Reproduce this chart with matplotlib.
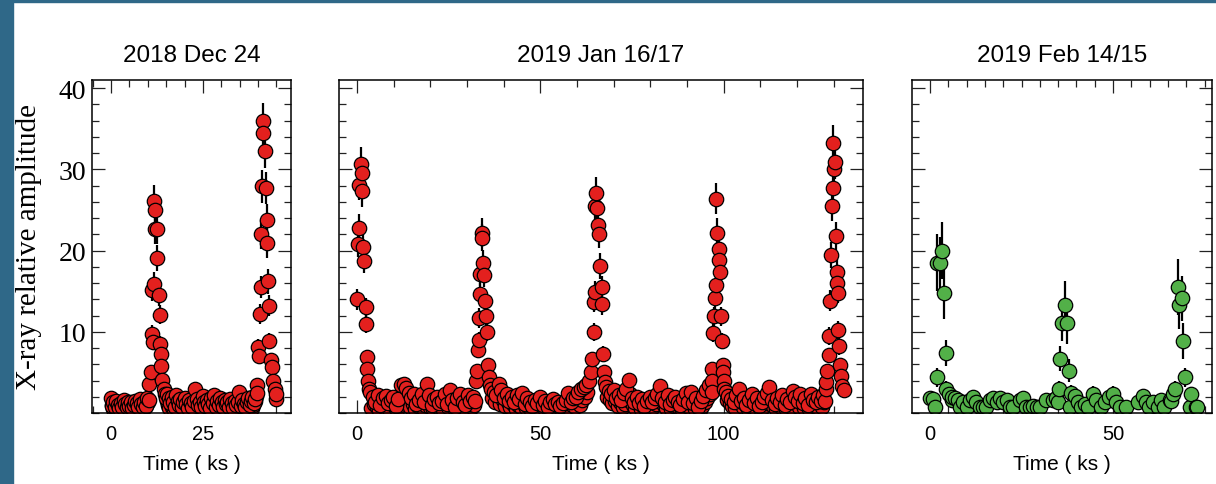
import matplotlib.pyplot as plt
from matplotlib.patches import Rectangle
from matplotlib.ticker import MultipleLocator

# ---- panel 1 : 2018 Dec 24 ----
t1 = [0.0, 0.3, 0.6, 1.0, 1.4, 1.8, 2.2, 2.6, 3.0, 3.4, 3.8, 4.2, 4.6, 5.0, 5.4, 5.8, 6.2, 6.6, 7.0, 7.4,
      7.8, 8.2, 8.6, 9.0, 9.4, 9.8,
      10.2, 10.4, 10.8, 11.1, 11.4, 11.1, 11.7, 11.8, 12.0, 12.0, 12.4, 12.4, 13.0, 13.2, 13.35, 13.5,
      13.7, 14.0, 14.3, 14.6, 14.9,
      15.3, 15.7, 16.1, 16.5, 16.9, 17.3, 17.7, 18.1, 18.5, 18.9, 19.3, 19.7, 20.1, 20.5, 20.9, 21.3,
      21.7, 22.1, 22.5, 22.9, 23.3, 23.7, 24.1, 24.5, 24.9, 25.3, 25.7, 26.1, 26.5, 26.9, 27.3, 27.7,
      28.1, 28.5, 28.9, 29.3, 29.7, 30.1, 30.5, 30.9, 31.3, 31.7, 32.1, 32.5, 32.9, 33.3, 33.7, 34.1,
      34.5, 34.9, 35.3, 35.7, 36.1, 36.5, 36.9, 37.3, 37.7, 38.1, 38.5, 38.9, 39.3,
      39.7, 39.8, 40.1, 40.3, 40.6, 40.9, 40.9, 41.1, 41.5, 41.5, 41.8, 42.2, 42.4, 42.4, 42.7, 42.9,
      43.1, 43.5, 43.8, 44.1, 44.7, 44.8, 45.0]
a1 = [1.8, 0.9, 1.3, 0.7, 1.5, 1.0, 0.6, 1.2, 0.8, 1.6, 1.1, 0.7, 1.3, 0.9, 1.4, 0.6, 1.0, 1.5, 1.2, 0.8,
      1.7, 1.1, 0.7, 1.4, 0.9, 1.9,
      1.6, 3.6, 5.1, 9.75, 8.8, 15.1, 15.9, 26.1, 25.0, 22.6, 22.6, 19.1, 14.5, 12.1, 8.5, 7.3,
      5.8, 4.1, 3.0, 2.4, 1.9,
      2.4, 1.8, 1.2, 2.0, 1.4, 0.8, 2.2, 1.5, 1.0, 1.7, 0.7, 1.3, 1.9, 1.1, 0.6, 1.6,
      1.2, 0.8, 1.5, 3.0, 1.7, 1.0, 1.4, 0.7, 2.1, 1.3, 0.9, 1.6, 1.1, 0.6, 1.8, 1.2,
      2.2, 0.8, 1.5, 1.0, 1.9, 1.3, 0.7, 1.6, 1.1, 1.4, 0.8, 1.7, 1.2, 0.6, 1.5, 1.0,
      1.3, 2.6, 0.9, 1.6, 1.1, 0.7, 1.4, 1.8, 1.0, 1.5, 2.0, 1.2, 1.7,
      3.4, 2.5, 8.1, 7.0, 12.2, 15.5, 22.0, 27.9, 35.9, 34.5, 32.3, 27.7, 23.8, 20.9, 16.2, 13.2,
      8.9, 6.5, 5.7, 3.9, 3.0, 1.7, 2.4]
e1 = [0.5, 0.4, 0.5, 0.4, 0.5, 0.4, 0.4, 0.5, 0.4, 0.5, 0.4, 0.4, 0.5, 0.4, 0.5, 0.4, 0.4, 0.5, 0.5, 0.4,
      0.5, 0.4, 0.4, 0.5, 0.4, 0.5,
      0.5, 0.7, 0.8, 1.1, 1.0, 1.3, 1.4, 2.0, 1.9, 1.8, 1.8, 1.6, 1.3, 1.2, 1.0, 0.9,
      0.8, 0.7, 0.6, 0.5, 0.5,
      0.5, 0.5, 0.4, 0.5, 0.4, 0.4, 0.5, 0.5, 0.4, 0.5, 0.4, 0.4, 0.5, 0.4, 0.4, 0.5,
      0.4, 0.4, 0.5, 0.6, 0.5, 0.4, 0.5, 0.4, 0.5, 0.4, 0.4, 0.5, 0.4, 0.4, 0.5, 0.4,
      0.5, 0.4, 0.5, 0.4, 0.5, 0.4, 0.4, 0.5, 0.4, 0.5, 0.4, 0.5, 0.4, 0.4, 0.5, 0.4,
      0.4, 0.6, 0.4, 0.5, 0.4, 0.4, 0.5, 0.5, 0.4, 0.5, 0.5, 0.4, 0.5,
      0.7, 0.6, 1.0, 0.9, 1.2, 1.4, 1.8, 2.0, 2.3, 2.2, 2.1, 2.0, 1.9, 1.8, 1.5, 1.3,
      1.0, 0.9, 0.8, 0.7, 0.6, 0.5, 0.5]
# second, lower layer of quiescent points (error bars hidden under the marks)
t1_low = [0.15, 0.45, 0.8, 1.2, 1.6, 2.0, 2.4, 2.8, 3.2, 3.6, 4.0, 4.4, 4.8, 5.2, 5.6, 6.0, 6.4,
          6.8, 7.2, 7.6, 8.0, 8.4, 8.8, 9.2, 9.6, 10.0,
          15.1, 15.5, 15.9, 16.3, 16.7, 17.1, 17.5, 17.9, 18.3, 18.7, 19.1, 19.5, 19.9, 20.3, 20.7,
          21.1, 21.5, 21.9, 22.3, 22.7, 23.1, 23.5, 23.9, 24.3, 24.7, 25.1, 25.5, 25.9, 26.3, 26.7,
          27.1, 27.5, 27.9, 28.3, 28.7, 29.1, 29.5, 29.9, 30.3, 30.7, 31.1, 31.5, 31.9, 32.3, 32.7,
          33.1, 33.5, 33.9, 34.3, 34.7, 35.1, 35.5, 35.9, 36.3, 36.7, 37.1, 37.5, 37.9, 38.3, 38.7,
          39.1, 39.5]
a1_low = [1.0, 0.5, 0.8, 1.1, 0.4, 0.9, 1.2, 0.6, 1.0, 0.5, 0.8, 1.3, 0.6, 1.0, 0.4, 0.9, 0.7,
          1.1, 0.5, 1.0, 0.8, 0.5, 1.2, 0.7, 1.0, 1.3,
          1.5, 1.0, 0.6, 1.2, 0.8, 0.4, 1.1, 0.7, 1.3, 0.5, 0.9, 1.0, 0.6, 1.2, 0.4,
          0.8, 1.1, 0.7, 1.4, 2.0, 1.0, 0.5, 0.9, 1.2, 0.6, 1.0, 0.4, 0.8, 1.3, 0.7,
          1.0, 0.5, 1.2, 0.9, 0.4, 1.1, 0.7, 1.0, 0.5, 1.3, 0.8, 0.6, 1.1, 0.4, 0.9,
          1.2, 0.7, 1.0, 0.5, 0.8, 1.4, 0.6, 1.0, 0.4, 0.9, 1.2, 0.7, 1.1, 0.6, 1.0,
          1.5, 2.1]

# ---- panel 2 : 2019 Jan 16/17 ----
t2 = [0.1, 0.4, 0.6, 0.6, 1.0, 1.3, 1.5, 1.7, 1.9, 2.4, 2.5, 2.6, 2.8, 3.1, 3.3,
      3.6, 4.3, 5.0, 5.7, 6.4, 7.1, 7.8, 8.5, 9.2, 9.9, 10.6, 11.3, 12.0, 12.7, 13.4, 14.1, 14.8,
      15.5, 16.2, 16.9, 17.6, 18.3, 19.0, 19.7, 20.4, 21.1, 21.8, 22.5, 23.2, 23.9, 24.6, 25.3,
      26.0, 26.7, 27.4, 28.1, 28.8, 29.5, 30.2, 30.9, 31.6, 32.2,
      32.5, 32.7, 33.0, 33.2, 33.3, 33.6, 33.6, 34.1, 34.2, 34.5, 34.7, 35.0, 35.2, 35.4, 35.7,
      35.9, 36.2,
      36.6, 37.3, 38.0, 38.7, 39.4, 40.1, 40.8, 41.5, 42.2, 42.9, 43.6, 44.3, 45.0, 45.7, 46.4,
      47.1, 47.8, 48.5, 49.2, 49.9, 50.6, 51.3, 52.0, 52.7, 53.4, 54.1, 54.8, 55.5, 56.2, 56.9,
      57.6, 58.3, 59.0, 59.7, 60.4, 61.1, 61.8, 62.5,
      63.2, 63.9, 64.1, 64.6, 64.6, 64.8, 65.0, 65.2, 65.5, 65.8, 66.1, 66.4, 66.7, 66.9, 67.1,
      67.3, 67.6,
      67.9, 68.6, 69.3, 70.0, 70.7, 71.4, 72.1, 72.8, 73.5, 74.2, 74.9, 75.6, 76.3, 77.0, 77.7,
      78.4, 79.1, 79.8, 80.5, 81.2, 81.9, 82.6, 83.3, 84.0, 84.7, 85.4, 86.1, 86.8, 87.5, 88.2,
      88.9, 89.6, 90.3, 91.0, 91.7, 92.4, 93.1, 93.8, 94.5, 95.2, 95.9,
      96.7, 96.7, 96.8, 97.2, 97.4, 97.6, 97.8, 98.0, 98.3, 98.7, 98.7, 98.9, 99.2, 99.6, 99.8,
      99.9, 100.0, 100.2,
      100.6, 101.3, 102.0, 102.7, 103.4, 104.1, 104.8, 105.5, 106.2, 106.9, 107.6, 108.3, 109.0,
      109.7, 110.4, 111.1, 111.8, 112.5, 113.2, 113.9, 114.6, 115.3, 116.0, 116.7, 117.4, 118.1,
      118.8, 119.5, 120.2, 120.9, 121.6, 122.3, 123.0, 123.7, 124.4, 125.1, 125.8, 126.5, 127.2,
      127.7, 127.9, 128.0, 128.3, 128.6, 128.8, 128.9, 129.2, 129.5, 129.7, 129.9, 130.1, 130.4,
      130.6, 130.8, 130.9, 131.1, 131.2, 131.4, 131.6, 132.0, 132.4, 132.7]
a2 = [14.0, 20.8, 22.8, 28.1, 30.7, 29.5, 27.3, 20.5, 18.7, 13.0, 11.0, 6.9, 5.4, 3.9, 3.0,
      2.6, 2.0, 1.4, 2.2, 1.0, 1.8, 2.1, 1.2, 1.6, 2.0, 0.9, 1.7, 3.4, 3.6, 3.1, 2.5, 1.9,
      2.3, 1.1, 1.6, 2.4, 1.3, 3.6, 2.2, 1.0, 1.7, 2.0, 1.2, 1.5, 2.3, 1.1, 2.8,
      1.6, 0.8, 1.9, 2.4, 1.3, 1.0, 2.2, 1.5, 2.0, 1.5,
      4.0, 5.2, 7.7, 9.0, 11.7, 14.7, 17.1, 22.2, 21.6, 18.5, 17.0, 13.8, 11.9, 10.0, 5.9,
      4.4, 3.5,
      3.0, 2.6, 2.2, 3.6, 2.8, 1.9, 2.4, 1.5, 2.0, 1.3, 2.2, 1.7, 2.5, 1.1, 1.8,
      1.4, 0.9, 1.6, 1.2, 2.0, 1.0, 1.5, 0.8, 1.3, 1.7, 1.1, 1.4, 0.9, 1.2, 1.6,
      2.5, 1.3, 1.8, 2.0, 2.6, 2.9, 3.2, 3.5,
      4.0, 5.0, 6.6, 10.0, 13.7, 14.9, 25.5, 27.1, 25.2, 23.2, 22.0, 18.1, 15.5, 13.4, 7.3,
      5.0, 3.8,
      3.2, 2.7, 2.3, 2.8, 1.9, 2.2, 1.6, 2.5, 3.0, 4.1, 1.8, 1.4, 2.0, 1.2, 1.7,
      0.9, 1.5, 2.0, 1.3, 1.8, 2.4, 3.3, 1.9, 1.4, 2.2, 1.1, 1.6, 2.0, 1.3, 1.0,
      1.7, 2.5, 1.4, 2.6, 1.2, 1.8, 0.8, 1.5, 2.1, 2.8, 3.4,
      5.4, 4.0, 2.6, 9.9, 11.9, 14.1, 15.8, 26.4, 22.2, 20.2, 18.8, 17.3, 11.9, 8.9, 5.9,
      5.0, 4.0, 3.0,
      2.6, 2.1, 1.7, 1.3, 2.2, 2.9, 1.5, 1.9, 1.0, 1.6, 2.3, 1.2, 1.8,
      0.9, 1.4, 2.0, 2.5, 3.2, 1.6, 1.1, 1.9, 1.4, 2.2, 1.0, 1.7, 1.3,
      2.7, 2.0, 1.5, 2.3, 1.2, 1.8, 1.0, 2.4, 1.6, 1.3, 2.0, 1.5, 2.2,
      1.5, 3.0, 3.8, 5.2, 7.1, 9.5, 13.8, 19.5, 25.5, 27.7, 33.2, 30.1, 30.9,
      21.8, 17.4, 16.0, 14.8, 10.2, 8.2, 5.9, 4.6, 3.3, 2.8]
e2 = [1.3, 1.6, 1.7, 1.9, 2.0, 2.0, 1.9, 1.6, 1.5, 1.2, 1.1, 0.9, 0.8, 0.7, 0.6,
      0.5, 0.5, 0.4, 0.5, 0.4, 0.5, 0.5, 0.4, 0.4, 0.5, 0.4, 0.4, 0.6, 0.6, 0.6, 0.5, 0.5,
      0.5, 0.4, 0.4, 0.5, 0.4, 0.6, 0.5, 0.4, 0.4, 0.5, 0.4, 0.4, 0.5, 0.4, 0.5,
      0.4, 0.4, 0.5, 0.5, 0.4, 0.4, 0.5, 0.4, 0.5, 0.4,
      0.7, 0.8, 0.9, 1.0, 1.2, 1.3, 1.5, 1.8, 1.7, 1.6, 1.5, 1.3, 1.2, 1.1, 0.8,
      0.7, 0.6,
      0.6, 0.5, 0.5, 0.6, 0.6, 0.5, 0.5, 0.4, 0.5, 0.4, 0.5, 0.4, 0.5, 0.4, 0.5,
      0.4, 0.4, 0.4, 0.4, 0.5, 0.4, 0.4, 0.4, 0.4, 0.5, 0.4, 0.4, 0.4, 0.4, 0.4,
      0.5, 0.4, 0.5, 0.5, 0.5, 0.6, 0.6, 0.6,
      0.7, 0.8, 0.9, 1.1, 1.3, 1.4, 1.9, 2.0, 1.9, 1.8, 1.7, 1.6, 1.4, 1.3, 0.9,
      0.8, 0.7,
      0.6, 0.5, 0.5, 0.6, 0.5, 0.5, 0.4, 0.5, 0.6, 0.7, 0.5, 0.4, 0.5, 0.4, 0.4,
      0.4, 0.4, 0.5, 0.4, 0.5, 0.5, 0.6, 0.5, 0.4, 0.5, 0.4, 0.4, 0.5, 0.4, 0.4,
      0.4, 0.5, 0.4, 0.5, 0.4, 0.5, 0.4, 0.4, 0.5, 0.6, 0.6,
      0.8, 0.7, 0.6, 1.1, 1.2, 1.3, 1.4, 1.9, 1.8, 1.7, 1.6, 1.5, 1.2, 1.0, 0.8,
      0.8, 0.7, 0.6,
      0.5, 0.5, 0.4, 0.4, 0.5, 0.6, 0.4, 0.5, 0.4, 0.4, 0.5, 0.4, 0.5,
      0.4, 0.4, 0.5, 0.5, 0.6, 0.4, 0.4, 0.5, 0.4, 0.5, 0.4, 0.4, 0.4,
      0.5, 0.5, 0.4, 0.5, 0.4, 0.5, 0.4, 0.5, 0.4, 0.4, 0.5, 0.4, 0.5,
      0.5, 0.6, 0.7, 0.8, 0.9, 1.1, 1.3, 1.6, 1.9, 2.0, 2.2, 2.1, 2.1,
      1.7, 1.5, 1.4, 1.3, 1.1, 1.0, 0.8, 0.7, 0.6, 0.6]
t2_low = [3.95, 4.65, 5.35, 6.05, 6.75, 7.45, 8.15, 8.85, 9.55, 10.25, 10.95, 11.65, 12.35, 13.05,
          13.75, 14.45, 15.15, 15.85, 16.55, 17.25, 17.95, 18.65, 19.35, 20.05, 20.75, 21.45, 22.15,
          22.85, 23.55, 24.25, 24.95, 25.65, 26.35, 27.05, 27.75, 28.45, 29.15, 29.85, 30.55, 31.25,
          31.95,
          36.95, 37.65, 38.35, 39.05, 39.75, 40.45, 41.15, 41.85, 42.55, 43.25, 43.95, 44.65, 45.35,
          46.05, 46.75, 47.45, 48.15, 48.85, 49.55, 50.25, 50.95, 51.65, 52.35, 53.05, 53.75, 54.45,
          55.15, 55.85, 56.55, 57.25, 57.95, 58.65, 59.35, 60.05, 60.75, 61.45, 62.15, 62.85,
          68.25, 68.95, 69.65, 70.35, 71.05, 71.75, 72.45, 73.15, 73.85, 74.55, 75.25, 75.95, 76.65,
          77.35, 78.05, 78.75, 79.45, 80.15, 80.85, 81.55, 82.25, 82.95, 83.65, 84.35, 85.05, 85.75,
          86.45, 87.15, 87.85, 88.55, 89.25, 89.95, 90.65, 91.35, 92.05, 92.75, 93.45, 94.15, 94.85,
          95.55, 96.25,
          100.95, 101.65, 102.35, 103.05, 103.75, 104.45, 105.15, 105.85, 106.55, 107.25, 107.95,
          108.65, 109.35, 110.05, 110.75, 111.45, 112.15, 112.85, 113.55, 114.25, 114.95, 115.65,
          116.35, 117.05, 117.75, 118.45, 119.15, 119.85, 120.55, 121.25, 121.95, 122.65, 123.35,
          124.05, 124.75, 125.45, 126.15, 126.85, 127.5]
a2_low = [0.6, 1.1, 0.8, 0.4, 1.3, 0.7, 1.0, 0.5, 1.2, 0.8, 0.4, 1.0, 2.4, 1.9,
          1.2, 0.7, 1.1, 0.5, 0.9, 1.3, 0.6, 1.0, 2.0, 0.8, 0.5, 1.2, 0.7,
          1.0, 0.4, 1.1, 0.8, 1.5, 0.6, 1.0, 0.5, 1.2, 0.9, 0.4, 1.1, 0.7,
          1.0,
          1.8, 1.4, 2.0, 1.1, 1.6, 0.9, 1.3, 0.7, 1.1, 0.5, 1.0, 0.8, 1.2,
          0.6, 0.9, 0.4, 1.1, 0.7, 0.5, 1.0, 0.6, 0.9, 0.4, 0.8, 1.0, 0.5,
          0.7, 0.4, 0.9, 1.1, 0.6, 1.0, 0.8, 1.3, 1.0, 1.6, 2.0, 2.6,
          2.0, 1.6, 1.2, 1.5, 0.9, 1.3, 0.7, 1.1, 1.6, 2.3, 1.0, 0.6, 1.2,
          0.5, 0.9, 0.4, 1.0, 1.3, 0.7, 1.1, 1.5, 2.0, 1.0, 0.6, 1.3, 0.5,
          0.9, 1.2, 0.6, 0.4, 1.0, 1.6, 0.8, 1.4, 0.5, 1.0, 0.4, 0.9, 1.3,
          1.8, 2.4,
          1.6, 1.2, 0.9, 0.6, 1.3, 1.8, 0.8, 1.1, 0.5, 0.9, 1.4,
          0.6, 1.0, 0.4, 0.8, 1.2, 1.5, 2.0, 0.9, 0.5, 1.1, 0.7,
          1.3, 0.5, 1.0, 0.7, 1.6, 1.2, 0.8, 1.4, 0.6, 1.0, 0.5,
          1.5, 0.9, 0.7, 1.2, 0.8, 1.3]

# ---- panel 3 : 2019 Feb 14/15 ----
t3 = [0.0, 0.9, 1.4, 1.8, 1.8, 2.7, 3.4, 3.8, 4.4, 4.5, 5.3, 6.0,
      5.9, 6.8, 7.7, 8.2, 9.1, 10.0, 10.9, 11.8, 12.7, 13.6, 14.5, 15.4, 16.3, 17.2, 18.2, 19.1,
      20.0, 20.9, 21.8, 22.7, 24.5, 25.4, 26.3, 27.2, 28.1, 29.1, 30.0, 31.8, 33.6, 34.5,
      35.0, 35.2, 35.6, 36.1, 36.8, 37.4, 37.9, 38.2,
      38.6, 39.5, 40.4, 41.3, 42.2, 43.1, 44.5, 45.4, 46.8, 47.7, 49.0, 49.9, 50.9, 51.8, 53.6,
      56.8, 58.1, 59.0, 59.9, 60.9, 62.2, 63.1, 64.0, 65.4,
      65.9, 66.3, 67.0, 67.7, 68.1, 68.8, 69.0, 69.5, 70.9, 71.3, 72.7, 73.0]
a3 = [1.8, 1.7, 0.7, 4.4, 18.5, 18.5, 20.0, 14.8, 7.4, 3.0, 2.4, 1.6,
      2.0, 1.8, 1.6, 0.75, 1.3, 0.75, 1.6, 2.0, 1.3, 0.75, 0.75, 0.75, 1.6, 1.8, 1.3, 1.8,
      1.3, 1.6, 0.75, 0.75, 1.6, 1.8, 0.75, 0.75, 0.9, 0.75, 0.75, 1.6, 1.6, 1.8,
      1.4, 3.0, 6.7, 11.1, 13.3, 11.1, 5.2, 0.7,
      2.5, 2.1, 1.3, 0.75, 1.1, 0.75, 2.4, 1.6, 0.75, 1.3, 2.0, 2.4, 1.3, 0.75, 0.75,
      1.3, 2.1, 1.3, 0.75, 1.3, 0.75, 1.6, 0.75, 1.6,
      1.5, 2.4, 3.0, 15.5, 13.3, 14.1, 8.9, 4.4, 0.7, 2.3, 0.7, 0.7]
e3 = [0.8, 0.8, 0.6, 1.2, 3.5, 3.2, 3.5, 3.2, 1.6, 1.0, 0.9, 0.8,
      0.8, 0.8, 0.8, 0.6, 0.7, 0.6, 0.8, 0.8, 0.7, 0.6, 0.6, 0.6, 0.8, 0.8, 0.7, 0.8,
      0.7, 0.8, 0.6, 0.6, 0.8, 0.8, 0.6, 0.6, 0.6, 0.6, 0.6, 0.8, 0.8, 0.8,
      0.7, 1.0, 1.5, 2.2, 3.0, 2.6, 1.4, 0.6,
      0.9, 0.9, 0.7, 0.6, 0.7, 0.6, 0.9, 0.8, 0.6, 0.7, 0.8, 0.9, 0.7, 0.6, 0.6,
      0.7, 0.9, 0.7, 0.6, 0.7, 0.6, 0.8, 0.6, 0.8,
      0.8, 0.9, 1.0, 3.4, 2.9, 2.8, 2.2, 1.2, 0.6, 0.9, 0.6, 0.6]

titles = ["2018 Dec 24", "2019 Jan 16/17", "2019 Feb 14/15"]

RED = '#e3201e'
GREEN = '#52b048'
BORDER = '#2f6888'
MS = 108

W, H = 1216, 485
fig = plt.figure(figsize=(W / 100, H / 100), dpi=100)
fig.patch.set_facecolor('white')

# slide border, left and top
fig.patches.append(Rectangle((0, 0), 13 / W, 1, transform=fig.transFigure, color=BORDER, zorder=0))
fig.patches.append(Rectangle((0, 1 - 3 / H), 1, 3 / H, transform=fig.transFigure, color=BORDER, zorder=0))


def make_ax(x0, x1, y0=81, y1=414):
    return fig.add_axes([x0 / W, (H - y1) / H, (x1 - x0) / W, (y1 - y0) / H])


def draw_panel(ax, t, a, e, color, xlim, major, minor, title, ylabels=False, t_low=None, a_low=None):
    if t_low is not None:
        ax.scatter(t_low, a_low, s=MS, c=color, edgecolors='black', linewidths=0.9, zorder=3)
    ax.errorbar(t, a, yerr=e, fmt='none', ecolor='black', elinewidth=1.6, capsize=0, zorder=3.5)
    ax.scatter(t, a, s=MS, c=color, edgecolors='black', linewidths=0.9, zorder=4)
    ax.set_xlim(*xlim)
    ax.set_ylim(0, 41)
    ax.xaxis.set_major_locator(MultipleLocator(major))
    ax.xaxis.set_minor_locator(MultipleLocator(minor))
    ax.yaxis.set_major_locator(MultipleLocator(10))
    ax.yaxis.set_minor_locator(MultipleLocator(2))
    ax.tick_params(which='both', direction='in', top=True, right=True, width=0.9, colors='#222222')
    ax.tick_params(which='major', length=9.5)
    ax.tick_params(which='minor', length=5)
    ax.tick_params(axis='x', pad=8, labelsize=14.5, labelcolor='black')
    ax.tick_params(axis='y', pad=4, labelsize=20, labelcolor='black', labelleft=ylabels)
    ax.set_yticks([10, 20, 30, 40])
    for lab in ax.get_yticklabels():
        lab.set_fontfamily('Liberation Serif')
    for lab in ax.get_xticklabels():
        lab.set_fontfamily('Liberation Sans')
    for sp in ax.spines.values():
        sp.set_linewidth(1.1)
        sp.set_zorder(5)
    ax.set_xlabel("Time ( ks )", fontsize=15, family='Liberation Sans', labelpad=8)
    ax.set_title(title, fontsize=17.5, family='Liberation Sans', pad=14)


ax1 = make_ax(92, 291)
ax2 = make_ax(339, 863)
ax3 = make_ax(912, 1212)

draw_panel(ax1, t1, a1, e1, RED, (-5.2, 49.0), 25, 5, titles[0], ylabels=True, t_low=t1_low, a_low=a1_low)
draw_panel(ax2, t2, a2, e2, RED, (-4.9, 138.0), 50, 10, titles[1], t_low=t2_low, a_low=a2_low)
draw_panel(ax3, t3, a3, e3, GREEN, (-4.9, 77.0), 50, 5, titles[2])

ax1.set_ylabel("X-ray relative amplitude", fontsize=21, family='Liberation Serif')
ax1.yaxis.set_label_coords(-0.25, 0.5)

fig.savefig("out.png", dpi=100)
